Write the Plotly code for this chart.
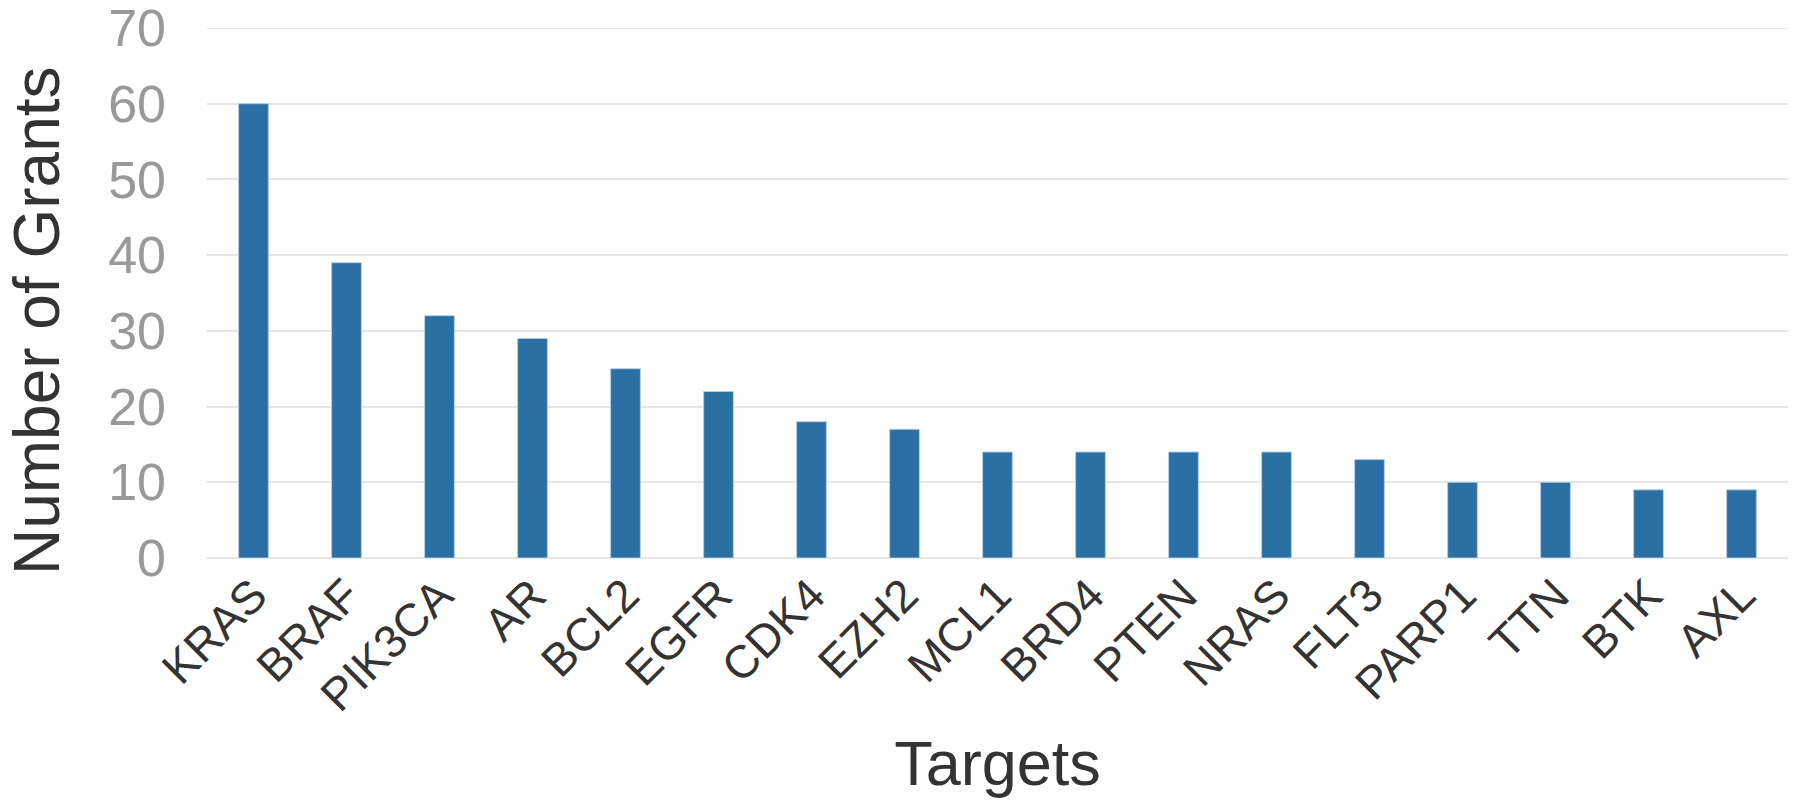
import plotly.graph_objects as go

# Grant counts per molecular target
targets = ["KRAS", "BRAF", "PIK3CA", "AR", "BCL2", "EGFR", "CDK4", "EZH2", "MCL1",
           "BRD4", "PTEN", "NRAS", "FLT3", "PARP1", "TTN", "BTK", "AXL"]
grants = [60, 39, 32, 29, 25, 22, 18, 17, 14, 14, 14, 14, 13, 10, 10, 9, 9]
y_ticks = [0, 10, 20, 30, 40, 50, 60, 70]

FONT = "Liberation Sans, Arial, sans-serif"
BAR_COLOR = "#2b70a5"
GRID = "#e6e6e6"

fig = go.Figure(
    go.Bar(
        x=targets,
        y=grants,
        marker=dict(color=BAR_COLOR, line=dict(color="rgba(180,205,228,0.9)", width=1)),
    )
)

# top grid line at the upper end of the value range
fig.add_shape(type="line", xref="paper", yref="y", x0=0, x1=1,
              y0=y_ticks[-1], y1=y_ticks[-1], line=dict(color=GRID, width=2), layer="below")

fig.update_layout(
    width=1796,
    height=808,
    margin=dict(l=207, r=8, t=28, b=250),
    paper_bgcolor="white",
    plot_bgcolor="white",
    bargap=0.68,
    showlegend=False,
    font=dict(family=FONT, color="#333333"),
    xaxis=dict(
        automargin=False,
        tickangle=-45,
        tickfont=dict(size=46, color="#333333", family=FONT),
        showgrid=False,
        showline=False,
        ticks="",
        title=dict(text="Targets", font=dict(size=63, color="#333333", family=FONT), standoff=20),
    ),
    yaxis=dict(
        automargin=False,
        range=[0, 70],
        tickvals=y_ticks,
        tickfont=dict(size=52, color="#999999", family=FONT),
        ticklabeloverflow="allow",
        showgrid=True,
        gridcolor=GRID,
        gridwidth=2,
        zeroline=True,
        zerolinecolor=GRID,
        zerolinewidth=2,
        showline=False,
        ticks="",
        ticklabelstandoff=40,
    ),
    annotations=[
        dict(
            text="Number of Grants",
            xref="paper", yref="paper",
            x=0, y=0.447,
            xanchor="center", yanchor="middle",
            xshift=-170,
            textangle=-90,
            showarrow=False,
            font=dict(size=64, color="#333333", family=FONT),
        )
    ],
)

fig.write_html("out.html")
